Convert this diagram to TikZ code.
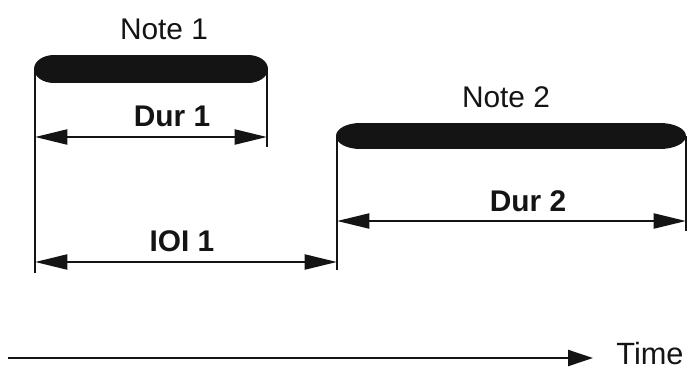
\documentclass[tikz,border=0pt]{standalone}
\usepackage{fontspec}
\setmainfont{Liberation Sans}
\usetikzlibrary{arrows.meta,positioning}
\definecolor{inkcolor}{RGB}{20,20,20}
\tikzset{
labeltext/.style={
  font=\fontsize{17}{20}\selectfont,
  text=inkcolor,
  inner sep=0pt
},
durtext/.style={
  labeltext,
  font=\fontsize{17}{20}\selectfont\bfseries
},
notebar/.style={
  fill=inkcolor
},
tick/.style={
  draw=inkcolor,
  line width=1.3pt
},
dimarrow/.style={
  {Triangle[length=6.5mm,width=3mm]}-{Triangle[length=6.5mm,width=3mm]},
  line width=1.4pt,
  draw=inkcolor
},
timearrow/.style={
  -{Triangle[length=5mm,width=3.2mm]},
  line width=1.4pt,
  draw=inkcolor
}
}
\begin{document}
\begin{tikzpicture}[x=0.02cm, y=-0.02cm]
  \useasboundingbox (0,0) rectangle (691,369);

  % Note bars (elliptical ends)
  \fill[notebar] (54,55) -- ++(194,0)
    arc[start angle=90, end angle=-90, x radius=0.4cm, y radius=0.28cm]
    -- ++(-194,0)
    arc[start angle=270, end angle=90, x radius=0.4cm, y radius=0.28cm] -- cycle;
  \fill[notebar] (360,123) -- ++(300,0)
    arc[start angle=90, end angle=-90, x radius=0.52cm, y radius=0.26cm]
    -- ++(-300,0)
    arc[start angle=270, end angle=90, x radius=0.48cm, y radius=0.26cm] -- cycle;
  \node[labeltext] (note1) at (164,29) {Note 1};
  \node[labeltext] (note2) at (506,97) {Note 2};

  % Tick lines
  \coordinate (b1L) at (35,69);
  \coordinate (b1R) at (267,69);
  \coordinate (b2L) at (337,136);
  \coordinate (b2R) at (686,136);
  \coordinate (b1Lend) at (35,273);
  \coordinate (b1Rend) at (267,147);
  \coordinate (b2Lend) at (337,270);
  \coordinate (b2Rend) at (686,231);
  \draw[tick] (b1L) -- (b1Lend);
  \draw[tick] (b1R) -- (b1Rend);
  \draw[tick] (b2L) -- (b2Lend);
  \draw[tick] (b2R) -- (b2Rend);

  % Durations
  \coordinate (d1a) at (35,137);
  \coordinate (d1b) at (267,137);
  \draw[dimarrow] (d1a) -- (d1b);
  \node[durtext] (dur1) at (172,116) {Dur 1};

  \coordinate (d2a) at (337,221);
  \coordinate (d2b) at (686,221);
  \draw[dimarrow] (d2a) -- (d2b);
  \node[durtext] (dur2) at (528,201) {Dur 2};

  % Inter-onset interval
  \coordinate (i1a) at (35,262);
  \coordinate (i1b) at (337,262);
  \draw[dimarrow] (i1a) -- (i1b);
  \node[durtext] (ioi1) at (182,241) {IOI 1};

  % Time axis
  \node[labeltext, font=\fontsize{17.5}{20}\selectfont, anchor=base west] (time) at (616,364) {Time};
  \coordinate (t0) at (8,358);
  \coordinate (t1) at (593,358);
  \draw[timearrow] (t0) -- (t1);
\end{tikzpicture}
\end{document}
